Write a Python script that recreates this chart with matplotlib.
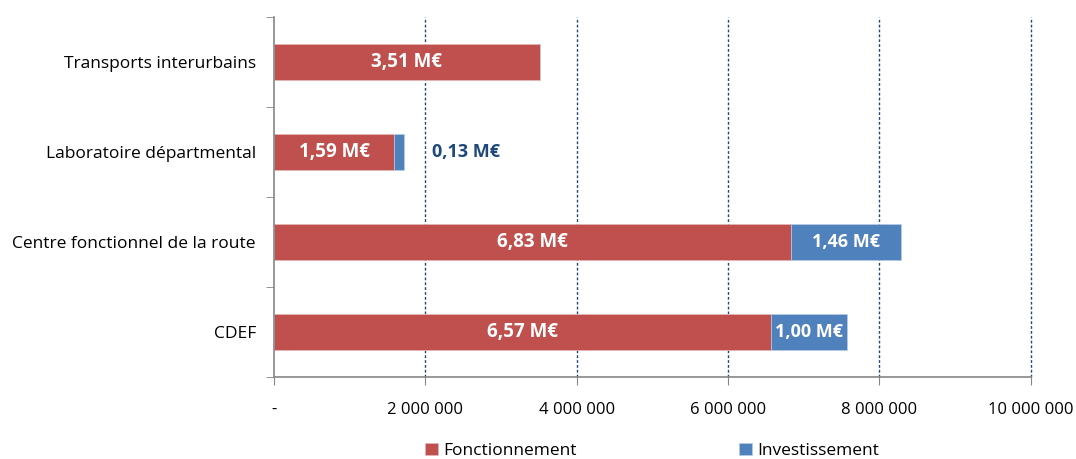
import matplotlib.pyplot as plt
import numpy as np

categories = ['Transports interurbains', 'Laboratoire départmental',
              'Centre fonctionnel de la route', 'CDEF']
fonctionnement = [3510000, 1590000, 6830000, 6570000]
investissement = [0, 130000, 1460000, 1000000]
fonct_labels = ['3,51 M€', '1,59 M€', '6,83 M€', '6,57 M€']
invest_labels = ['', '0,13 M€', '1,46 M€', '1,00 M€']
xticks = [0, 2000000, 4000000, 6000000, 8000000, 10000000]
xtick_labels = ['-', '2 000 000', '4 000 000', '6 000 000', '8 000 000', '10 000 000']

RED = '#C0504D'
BLUE = '#4F81BD'
plt.rcParams['font.family'] = ['Open Sans', 'DejaVu Sans']

fig = plt.figure(figsize=(10.76, 4.59), dpi=100)
ax = fig.add_axes([0.2546, 0.1786, 0.7034, 0.7844])

y = np.arange(len(categories))
ax.barh(y, fonctionnement, height=0.4, color=RED, edgecolor='#E6B9B8', linewidth=0.5,
        label='Fonctionnement', zorder=3)
ax.barh(y, investissement, left=fonctionnement, height=0.4, color=BLUE,
        edgecolor='#B9CDE5', linewidth=0.5, label='Investissement', zorder=3)

for i in range(len(categories)):
    ax.text(fonctionnement[i] / 2, y[i], fonct_labels[i], ha='center', va='center',
            color='white', fontsize=13.5, fontweight='bold', zorder=4)
    if invest_labels[i]:
        if investissement[i] < 400000:
            ax.text(fonctionnement[i] + investissement[i] + 370000, y[i], invest_labels[i],
                    ha='left', va='center', color='#1F497D', fontsize=13,
                    fontweight='bold', zorder=4)
        else:
            ax.text(fonctionnement[i] + investissement[i] / 2, y[i], invest_labels[i],
                    ha='center', va='center', color='white', fontsize=13,
                    fontweight='bold', zorder=4)

# grille verticale en tirets
for xv in xticks[1:]:
    ax.axvline(xv, color='#1F497D', linestyle=(0, (2, 1.5)), linewidth=1.0,
               zorder=0, clip_on=False)

ax.set_xlim(0, 10000000)
ax.set_ylim(-0.5, len(categories) - 0.5)
ax.invert_yaxis()
ax.set_xticks(xticks)
ax.set_xticklabels(xtick_labels, fontsize=12)
ax.set_yticks(y)
ax.set_yticklabels(categories, fontsize=12.5)
ax.set_yticks(np.arange(-0.5, len(categories)), minor=True)
ax.tick_params(axis='y', which='major', length=0, pad=13)
ax.tick_params(axis='y', which='minor', length=6, color='#868686', direction='out')
ax.tick_params(axis='x', length=6, color='#868686', direction='out', pad=12)

for side in ['top', 'right']:
    ax.spines[side].set_visible(False)
for side in ['left', 'bottom']:
    ax.spines[side].set_color('#868686')
    ax.spines[side].set_linewidth(1.2)
    ax.spines[side].set_zorder(5)

fig.legend(loc='lower center', bbox_to_anchor=(0.606, -0.035), ncol=2, frameon=False,
           fontsize=12.5, handlelength=0.7, handleheight=0.7, handletextpad=0.3,
           columnspacing=9.4)

fig.savefig('out.png', dpi=100)
